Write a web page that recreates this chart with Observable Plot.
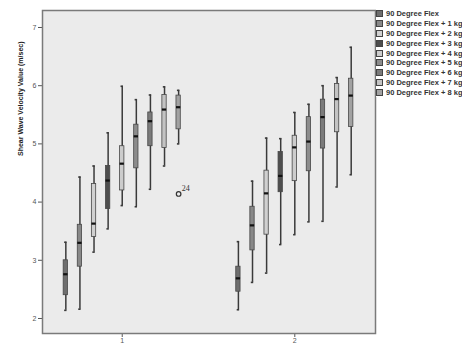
<!DOCTYPE html>
<html>
<head>
<meta charset="utf-8">
<script src="https://cdn.jsdelivr.net/npm/d3@7"></script>
<script src="https://cdn.jsdelivr.net/npm/@observablehq/plot@0.6"></script>
<style>
  html, body { margin: 0; padding: 0; background: #fff; }
  #wrap { position: relative; width: 462px; height: 344px; overflow: hidden; font-family: "Liberation Sans", Arial, sans-serif; }
  #legend { position: absolute; left: 376px; top: 9px; width: 90px; background: #fff; }
  .row { height: 9.8px; display: flex; align-items: center; white-space: nowrap; font-size: 7.5px; font-weight: bold; color: #333; }
  .sw { width: 5px; height: 5px; border: 1px solid #444; margin-right: 3px; flex: none; }
</style>
</head>
<body>
<div id="wrap"><div id="legend"></div></div>
<script>
const conditions = [
  "90 Degree Flex",
  "90 Degree Flex + 1 kg",
  "90 Degree Flex + 2 kg",
  "90 Degree Flex + 3 kg",
  "90 Degree Flex + 4 kg",
  "90 Degree Flex + 5 kg",
  "90 Degree Flex + 6 kg",
  "90 Degree Flex + 7 kg",
  "90 Degree Flex + 8 kg"
];
const fills = ["#6e6e6e","#888888","#d0d0d0","#4e4e4e","#cccccc","#8c8c8c","#7b7b7b","#c3c3c3","#a2a2a2"];
const groups = [1, 2];
const yTicks = [2, 3, 4, 5, 6, 7];

const g1Min = [2.14, 2.16, 3.14, 3.54, 3.94, 3.92, 4.22, 4.62, 5.00];
const g1Q1  = [2.40, 2.89, 3.40, 3.88, 4.20, 4.58, 4.96, 4.93, 5.25];
const g1Med = [2.76, 3.30, 3.63, 4.37, 4.66, 5.13, 5.39, 5.59, 5.63];
const g1Q3  = [3.00, 3.61, 4.31, 4.62, 4.96, 5.33, 5.54, 5.84, 5.83];
const g1Max = [3.31, 4.43, 4.62, 5.19, 5.99, 5.76, 5.84, 5.98, 5.92];

const g2Min = [2.15, 2.62, 2.78, 3.27, 3.44, 3.66, 3.67, 4.26, 4.47];
const g2Q1  = [2.46, 3.17, 3.44, 4.17, 4.36, 4.53, 4.92, 5.20, 5.29];
const g2Med = [2.69, 3.60, 4.15, 4.45, 4.94, 5.04, 5.46, 5.77, 5.83];
const g2Q3  = [2.89, 3.92, 4.54, 4.86, 5.14, 5.46, 5.76, 6.03, 6.12];
const g2Max = [3.32, 4.36, 5.10, 5.09, 5.54, 5.68, 6.00, 6.14, 6.66];

const outlierGroup = [1];
const outlierCond = [8];
const outlierValue = [4.14];
const outlierLabel = ["24"];

const stats = [
  {min: g1Min, q1: g1Q1, med: g1Med, q3: g1Q3, max: g1Max},
  {min: g2Min, q1: g2Q1, med: g2Med, q3: g2Q3, max: g2Max}
];

// layout within each group (x units)
const step = 0.0817, half = 0.0125, cap = 0.007;
const pos = (g, i) => g + (i - (conditions.length - 1) / 2) * step;

const rows = groups.flatMap((g, gi) => conditions.map((c, i) => ({
  group: g, cond: c, i, x: pos(g, i),
  min: stats[gi].min[i], q1: stats[gi].q1[i], med: stats[gi].med[i],
  q3: stats[gi].q3[i], max: stats[gi].max[i]
})));
const outliers = outlierValue.map((v, k) => ({
  x: pos(outlierGroup[k], outlierCond[k]), y: v, label: outlierLabel[k]
}));

const chart = Plot.plot({
  width: 462, height: 344,
  marginLeft: 42, marginRight: 87, marginTop: 10, marginBottom: 11,
  style: {fontFamily: "'Liberation Sans', Arial, sans-serif", fontSize: "7px", color: "#555", background: "transparent"},
  x: {domain: [0.538, 2.4676], ticks: groups, tickFormat: d => String(d), tickSize: 4, tickPadding: 1, label: null},
  y: {domain: [1.742, 7.292], ticks: yTicks, tickFormat: d => String(d), tickSize: 4, tickPadding: 2, label: null},
  color: {type: "identity"},
  marks: [
    Plot.frame({fill: "#ebebeb", stroke: "#7a7a7a", strokeWidth: 1.5}),
    Plot.ruleX(rows, {x: "x", y1: "min", y2: "max", stroke: "#3a3a3a", strokeWidth: 1.5}),
    Plot.ruleY(rows, {y: "min", x1: d => d.x - cap, x2: d => d.x + cap, stroke: "#3a3a3a", strokeWidth: 1.6}),
    Plot.ruleY(rows, {y: "max", x1: d => d.x - cap, x2: d => d.x + cap, stroke: "#3a3a3a", strokeWidth: 1.6}),
    Plot.rectY(rows, {x1: d => d.x - half, x2: d => d.x + half, y1: "q1", y2: "q3", fill: d => fills[d.i], stroke: "#474747", strokeWidth: 0.8}),
    Plot.ruleY(rows, {y: "med", x1: d => d.x - half, x2: d => d.x + half, stroke: "#111", strokeWidth: 2.2}),
    Plot.dot(outliers, {x: "x", y: "y", r: 2.3, stroke: "#333", strokeWidth: 1.2, fill: "#ebebeb"}),
    Plot.text(outliers, {x: "x", y: "y", text: "label", dx: 3, dy: -6, textAnchor: "start", fontSize: 8, fill: "#333", fontFamily: "'Liberation Serif', serif"}),
    Plot.text(["Shear Wave Velocity Value (m/sec)"], {text: d => d, frameAnchor: "left", rotate: -90, dx: -22, dy: -16, fontWeight: "bold", fontSize: 7, fill: "#222"})
  ]
});
const wrap = document.getElementById("wrap");
wrap.insertBefore(chart, wrap.firstChild);

const legend = document.getElementById("legend");
conditions.forEach((c, i) => {
  const row = document.createElement("div");
  row.className = "row";
  const sw = document.createElement("span");
  sw.className = "sw";
  sw.style.background = fills[i];
  const t = document.createElement("span");
  t.textContent = c;
  row.appendChild(sw); row.appendChild(t);
  legend.appendChild(row);
});
</script>
</body>
</html>
